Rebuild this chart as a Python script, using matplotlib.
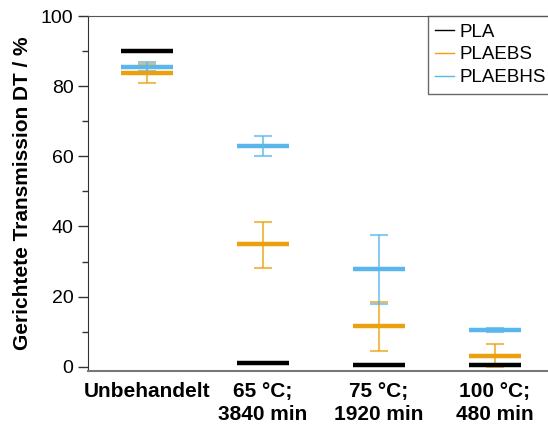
import matplotlib.pyplot as plt
from matplotlib.ticker import MultipleLocator

plt.rcParams["font.family"] = ["Liberation Sans", "DejaVu Sans"]

categories = ["Unbehandelt", "65 °C;\n3840 min", "75 °C;\n1920 min", "100 °C;\n480 min"]

pla_mean = [90.0, 1.0, 0.5, 0.5]

plaebs_mean = [83.7, 34.9, 11.5, 3.1]
plaebs_low = [81.0, 28.3, 4.5, 0.0]
plaebs_high = [86.3, 41.4, 18.5, 6.4]

plaebhs_mean = [85.6, 63.0, 27.8, 10.6]
plaebhs_low = [84.2, 60.2, 17.8, 10.0]
plaebhs_high = [86.9, 65.9, 37.7, 11.1]

colors = {"PLA": "#000000", "PLAEBS": "#EBA00D", "PLAEBHS": "#5BB6EB"}


def main():
    fig = plt.figure(figsize=(5.48, 4.29), dpi=100)
    ax = fig.add_axes([0.1606, 0.1352, 0.8394, 0.8275])

    x = list(range(len(categories)))
    half = 0.225

    # error bars first so the mean lines sit on top
    for mean, low, high, name in [(plaebs_mean, plaebs_low, plaebs_high, "PLAEBS"),
                                  (plaebhs_mean, plaebhs_low, plaebhs_high, "PLAEBHS")]:
        yerr = [[m - l for m, l in zip(mean, low)], [h - m for m, h in zip(mean, high)]]
        ax.errorbar(x, mean, yerr=yerr, fmt="none", ecolor=colors[name], alpha=0.7,
                    elinewidth=1.5, capsize=6.5, capthick=1.5, zorder=2)

    for mean, name in [(pla_mean, "PLA"), (plaebs_mean, "PLAEBS"), (plaebhs_mean, "PLAEBHS")]:
        ax.hlines(mean, [i - half for i in x], [i + half for i in x],
                  colors=colors[name], linewidth=3.2, zorder=3)
        ax.plot([], [], color=colors[name], linewidth=1, label=name)

    ax.set_xlim(-0.51, 3.46)
    ax.set_ylim(-1.2, 100)
    ax.set_xticks(x)
    ax.set_xticklabels(categories, fontsize=15, fontweight="bold", linespacing=1.25)
    ax.tick_params(axis="x", length=0, pad=8)
    ax.yaxis.set_major_locator(MultipleLocator(20))
    ax.yaxis.set_minor_locator(MultipleLocator(10))
    ax.tick_params(axis="y", which="major", length=7, width=1, labelsize=14, color="#333333")
    ax.tick_params(axis="y", which="minor", length=4, width=1, color="#333333")
    ax.set_ylabel("Gerichtete Transmission DT / %", fontsize=15, fontweight="bold", labelpad=6)

    ax.spines["right"].set_visible(False)
    ax.spines["left"].set_color("#333333")
    ax.spines["top"].set_color("#555555")
    ax.spines["bottom"].set_color("#777777")
    ax.spines["bottom"].set_linewidth(1.5)

    leg = ax.legend(loc="upper left", bbox_to_anchor=(0.739, 1.0), fontsize=13.5,
                    frameon=True, fancybox=False, edgecolor="#444444",
                    handlelength=1.0, handletextpad=0.3, borderaxespad=0,
                    labelspacing=0.3, borderpad=0.4)
    leg.get_frame().set_linewidth(1)

    plt.savefig("out.png")


if __name__ == "__main__":
    main()
